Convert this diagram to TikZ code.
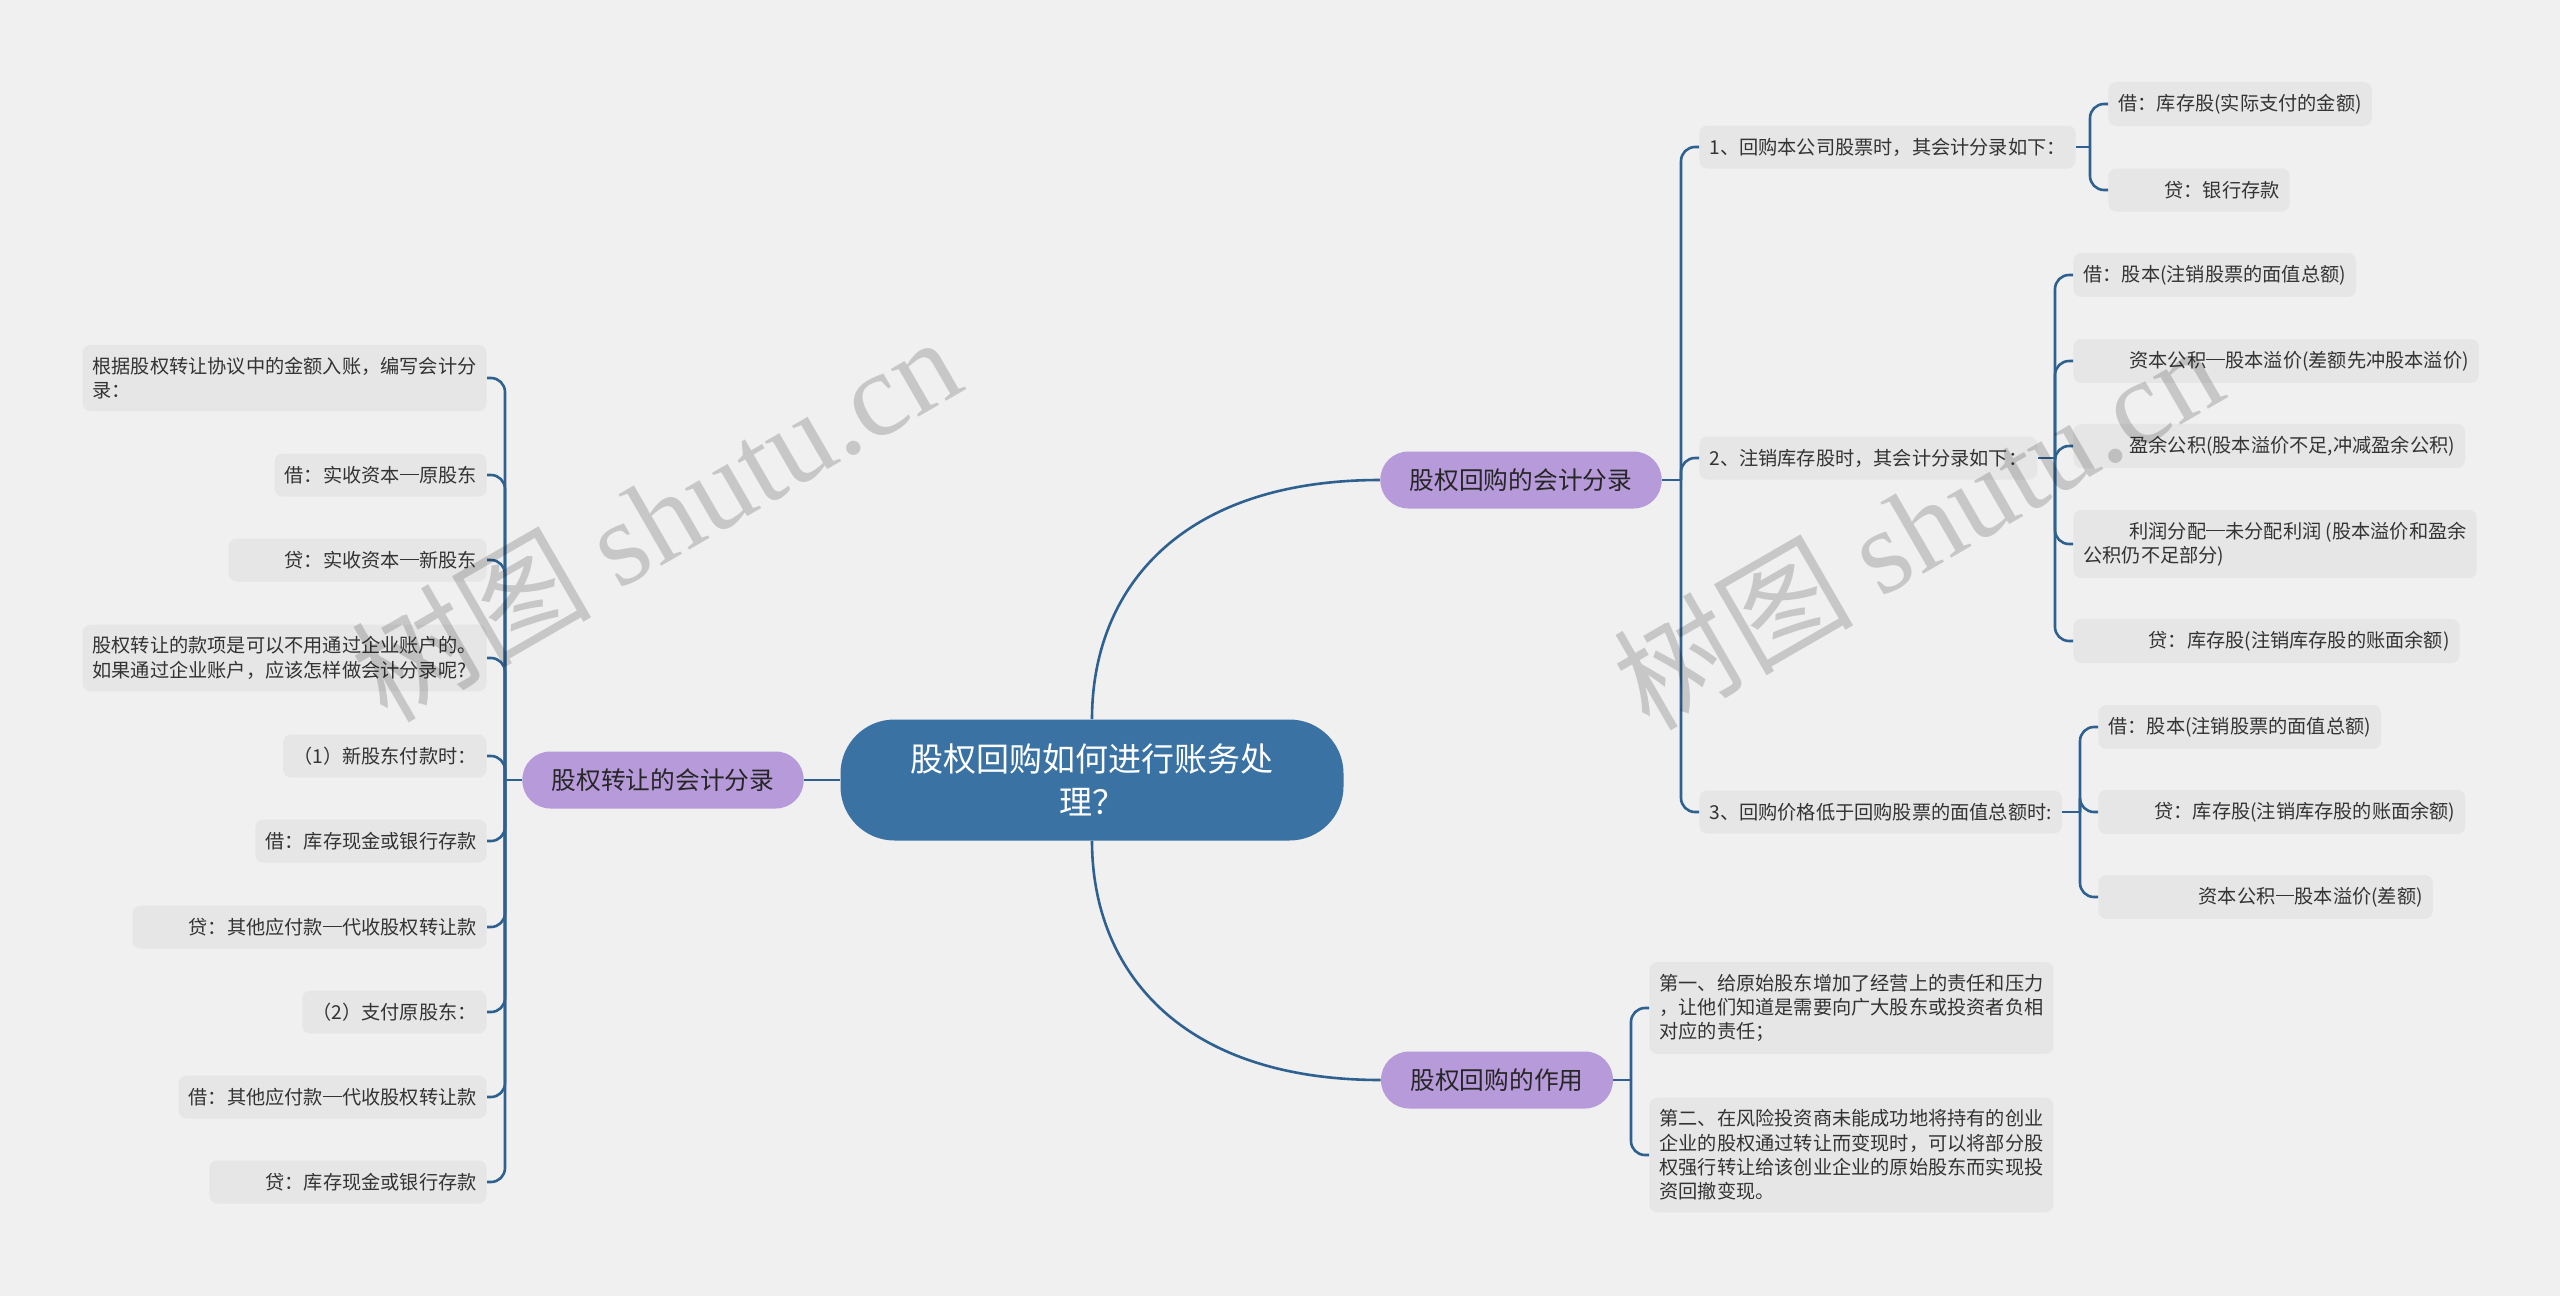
\documentclass[tikz,border=0pt]{standalone}
\usepackage{fontspec}
\setmainfont{Noto Sans CJK SC}
\newfontfamily\wmserif{Liberation Serif}
\usetikzlibrary{calc}

\definecolor{bgcol}{HTML}{F0F0F0}
\definecolor{rootcol}{HTML}{3A72A4}
\definecolor{topiccol}{HTML}{B79AD9}
\definecolor{leafcol}{HTML}{E6E6E6}
\definecolor{linecol}{HTML}{2F6190}
\definecolor{txtcol}{HTML}{333333}

% full width dash
\newcommand\cjkdash{\makebox[1em]{\rule[0.36em]{0.98em}{0.065em}}}

\begin{document}
\begin{tikzpicture}[x=0.5pt, y=-0.5pt,
	rootnode/.style={fill=rootcol, text=white, rounded corners=27pt, align=center,
		font=\fontsize{16.5}{21.7}\selectfont, inner xsep=35pt, inner ysep=11pt, minimum height=60.5pt},
	topic/.style={fill=topiccol, text=black!85, rounded corners=14pt,
		font=\fontsize{12.35}{15}\selectfont, inner xsep=14.75pt, minimum height=28.5pt},
	leaf/.style={fill=leafcol, text=txtcol, rounded corners=4pt, align=left,
		font=\fontsize{9.6}{12.15}\selectfont, inner xsep=5pt, inner ysep=6pt, minimum height=21.5pt},
	link/.style={draw=linecol, line width=1.3pt},
	bracket/.style={link, rounded corners=7pt},
	wmtext/.style={rotate=30, text=black, text opacity=0.17, font=\fontsize{60}{60}\selectfont}]
	\path[fill=bgcol, use as bounding box] (0,0) rectangle (2560,1296);

	\node[rootnode] (root) at (1092,780) {股权回购如何进行账务处\\理？};
	\node[topic] (acct) at (1521,480) {股权回购的会计分录};
	\node[topic] (effect) at (1497,1080) {股权回购的作用};
	\node[topic] (xfer) at (663,780) {股权转让的会计分录};

	% right, accounting entries
	\node[leaf, anchor=west] (a1) at (1699,147) {1、回购本公司股票时，其会计分录如下：};
	\node[leaf, anchor=west] (a2) at (1699,458) {2、注销库存股时，其会计分录如下：};
	\node[leaf, anchor=west] (a3) at (1699,812) {3、回购价格低于回购股票的面值总额时:};

	\node[leaf, anchor=west] (a1b) at (2108,104) {借：库存股(实际支付的金额)};
	\node[leaf, anchor=west] (a1c) at (2108,190) {\hspace*{2.4em}贷：银行存款};

	\node[leaf, anchor=west] (a2a) at (2073,275) {借：股本(注销股票的面值总额)};
	\node[leaf, anchor=west] (a2b) at (2073,361) {\hspace*{2.4em}资本公积\cjkdash 股本溢价(差额先冲股本溢价)};
	\node[leaf, anchor=west] (a2c) at (2073,446) {\hspace*{2.4em}盈余公积(股本溢价不足,冲减盈余公积)};
	\node[leaf, anchor=west] (a2d) at (2073,544) {\hspace*{2.4em}利润分配\cjkdash 未分配利润 (股本溢价和盈余\\公积仍不足部分)};
	\node[leaf, anchor=west] (a2e) at (2073,641) {\hspace*{3.4em}贷：库存股(注销库存股的账面余额)};

	\node[leaf, anchor=west] (a3a) at (2098,727) {借：股本(注销股票的面值总额)};
	\node[leaf, anchor=west] (a3b) at (2098,812) {\hspace*{2.4em}贷：库存股(注销库存股的账面余额)};
	\node[leaf, anchor=west] (a3c) at (2098,897) {\hspace*{4.7em}资本公积\cjkdash 股本溢价(差额)};

	% right, effect
	\node[leaf, anchor=west] (e1) at (1649,1008) {第一、给原始股东增加了经营上的责任和压力\\，让他们知道是需要向广大股东或投资者负相\\对应的责任；};
	\node[leaf, anchor=west] (e2) at (1649,1155) {第二、在风险投资商未能成功地将持有的创业\\企业的股权通过转让而变现时，可以将部分股\\权强行转让给该创业企业的原始股东而实现投\\资回撤变现。};

	% left, transfer
	\node[leaf, anchor=east] (x1) at (487,378) {根据股权转让协议中的金额入账，编写会计分\\录：};
	\node[leaf, anchor=east] (x2) at (487,475) {借：实收资本\cjkdash 原股东};
	\node[leaf, anchor=east] (x3) at (487,560) {\hspace*{2.4em}贷：实收资本\cjkdash 新股东};
	\node[leaf, anchor=east] (x4) at (487,658) {股权转让的款项是可以不用通过企业账户的。\\如果通过企业账户，应该怎样做会计分录呢?};
	\node[leaf, anchor=east] (x5) at (487,756) {（1）新股东付款时：};
	\node[leaf, anchor=east] (x6) at (487,841) {借：库存现金或银行存款};
	\node[leaf, anchor=east] (x7) at (487,927) {\hspace*{2.4em}贷：其他应付款\cjkdash 代收股权转让款};
	\node[leaf, anchor=east] (x8) at (487,1012) {（2）支付原股东：};
	\node[leaf, anchor=east] (x9) at (487,1097) {借：其他应付款\cjkdash 代收股权转让款};
	\node[leaf, anchor=east] (x10) at (487,1182) {\hspace*{2.4em}贷：库存现金或银行存款};

	% main branches
	\draw[link] (root.west) -- (xfer.east);
	\draw[link] (root.north) .. controls +(0,-130) and +(-200,0) .. (acct.west);
	\draw[link] (root.south) .. controls +(0,130) and +(-200,0) .. (effect.west);

	% brackets
	\coordinate (acctJ) at (1681,480);
	\draw[link] (acct.east) -- (acctJ);
	\foreach \n in {a1,a2,a3}
		\draw[bracket] (acctJ) |- (\n.west);

	\coordinate (a1J) at (2090,147);
	\draw[link] (a1.east) -- (a1J);
	\foreach \n in {a1b,a1c}
		\draw[bracket] (a1J) |- (\n.west);

	\coordinate (a2J) at (2055,458);
	\draw[link] (a2.east) -- (a2J);
	\foreach \n in {a2a,a2b,a2c,a2d,a2e}
		\draw[bracket] (a2J) |- (\n.west);

	\coordinate (a3J) at (2080,812);
	\draw[link] (a3.east) -- (a3J);
	\foreach \n in {a3a,a3b,a3c}
		\draw[bracket] (a3J) |- (\n.west);

	\coordinate (effectJ) at (1631,1080);
	\draw[link] (effect.east) -- (effectJ);
	\foreach \n in {e1,e2}
		\draw[bracket] (effectJ) |- (\n.west);

	\coordinate (xferJ) at (505,780);
	\draw[link] (xfer.west) -- (xferJ);
	\foreach \n in {x1,x2,x3,x4,x5,x6,x7,x8,x9,x10}
		\draw[bracket] (xferJ) |- (\n.east);

	% watermark
	\node[wmtext] (wm1) at (655,517) {树图 {\wmserif shutu.cn}};
	\node[wmtext] (wm2) at (1917,525) {树图 {\wmserif shutu.cn}};
\end{tikzpicture}
\end{document}
